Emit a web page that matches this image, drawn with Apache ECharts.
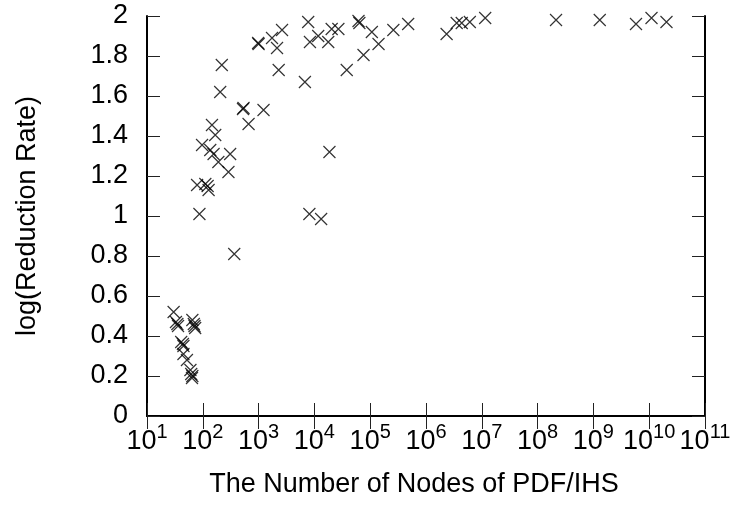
<!DOCTYPE html>
<html>
<head>
<meta charset="utf-8">
<script src="https://cdn.jsdelivr.net/npm/echarts@6/dist/echarts.min.js"></script>
<style>html,body{margin:0;padding:0;background:#fff}#c{width:737px;height:511px}</style>
</head>
<body>
<div id="c"></div>
<script>
// Number of nodes of PDF/IHS (x) and log(Reduction Rate) (y)
var nodes = [30,33,35,36,65,69,73,71,41,44,45,45,52,60,62,65,64,
  366,87,79,111,122,127,97,136,156,309,190,288,146,167,205,219,
  537,525,661,1225,1000,980,1740,2630,2140,2290,
  6760,7740,8320,11700,17700,20400,26900,8130,13200,18600,
  61700,64000,107000,141000,75900,38000,260000,479000,
  2.34e6,3.55e6,4.37e6,6.1e6,1.15e7,2.14e8,1.3e9,5.8e9,1.1e10,2.04e10];
var rates = [0.52,0.47,0.46,0.45,0.48,0.46,0.44,0.45,0.37,0.36,0.35,0.31,0.28,0.23,0.21,0.20,0.19,
  0.81,1.01,1.155,1.16,1.15,1.13,1.355,1.33,1.31,1.31,1.27,1.22,1.455,1.405,1.62,1.755,
  1.54,1.535,1.46,1.53,1.86,1.865,1.89,1.93,1.84,1.73,
  1.67,1.97,1.87,1.90,1.87,1.935,1.935,1.01,0.985,1.32,
  1.975,1.965,1.92,1.86,1.805,1.73,1.93,1.96,
  1.91,1.965,1.965,1.97,1.99,1.98,1.98,1.96,1.99,1.97];
var xExponents = [1,2,3,4,5,6,7,8,9,10,11]; // x tick labels: 10^k
var xTitle = 'The Number of Nodes of PDF/IHS';
var yTitle = 'log(Reduction Rate)';

var font = 'Liberation Sans, Arial, sans-serif';
var fs = 27;
// x axis is logarithmic: plot log10(nodes) on a linear axis labelled 10^k
var data = nodes.map(function(n,i){return [Math.log10(n), rates[i]];});
var xMin = xExponents[0], xMax = xExponents[xExponents.length-1];
var chart = echarts.init(document.getElementById('c'), null, {renderer:'canvas'});
var lineStyle = {color:'#000', width:2};
var tickStyle = {color:'#222', width:1};
chart.setOption({
  animation:false,
  backgroundColor:'#fff',
  grid:{left:147, right:32, top:16, bottom:95},
  xAxis:[{
    type:'value', min:xMin, max:xMax, interval:1,
    name:xTitle, nameLocation:'middle', nameGap:55,
    nameTextStyle:{fontFamily:font, fontSize:fs, color:'#000', padding:[0,24,0,0]},
    axisLine:{lineStyle:lineStyle},
    axisTick:{inside:true, length:13, lineStyle:tickStyle},
    splitLine:{show:false},
    axisLabel:{margin:6, hideOverlap:false, showMinLabel:true, showMaxLabel:true,
      color:'#000', fontFamily:font, fontSize:fs,
      formatter:function(v){return '10{sup|'+Math.round(v)+'}';},
      rich:{sup:{fontFamily:font, fontSize:20, color:'#000', padding:[0,0,19,0]}}}
  },{
    type:'value', min:xMin, max:xMax, interval:1, position:'top',
    axisLine:{lineStyle:lineStyle},
    axisTick:{inside:true, length:13, lineStyle:tickStyle},
    axisLabel:{show:false}, splitLine:{show:false}
  }],
  yAxis:[{
    type:'value', min:0, max:2, interval:0.2,
    name:yTitle, nameLocation:'middle', nameGap:106, nameRotate:90,
    nameTextStyle:{fontFamily:font, fontSize:fs, color:'#000'},
    axisLine:{show:true, lineStyle:lineStyle},
    axisTick:{show:true, inside:true, length:13, lineStyle:tickStyle},
    splitLine:{show:false},
    axisLabel:{margin:19, color:'#000', fontFamily:font, fontSize:fs,
      formatter:function(v){return String(Math.round(v*10)/10);}}
  },{
    type:'value', min:0, max:2, interval:0.2, position:'right',
    axisLine:{show:true, lineStyle:lineStyle},
    axisTick:{show:true, inside:true, length:13, lineStyle:tickStyle},
    axisLabel:{show:false}, splitLine:{show:false}
  }],
  series:[{
    type:'scatter', xAxisIndex:0, yAxisIndex:0,
    data:data,
    symbol:'path://M0,0L10,10M10,0L0,10',
    symbolSize:12,
    itemStyle:{color:'rgba(0,0,0,0)', borderColor:'#000', borderWidth:1.2},
    clip:false
  }]
});
</script>
</body>
</html>
